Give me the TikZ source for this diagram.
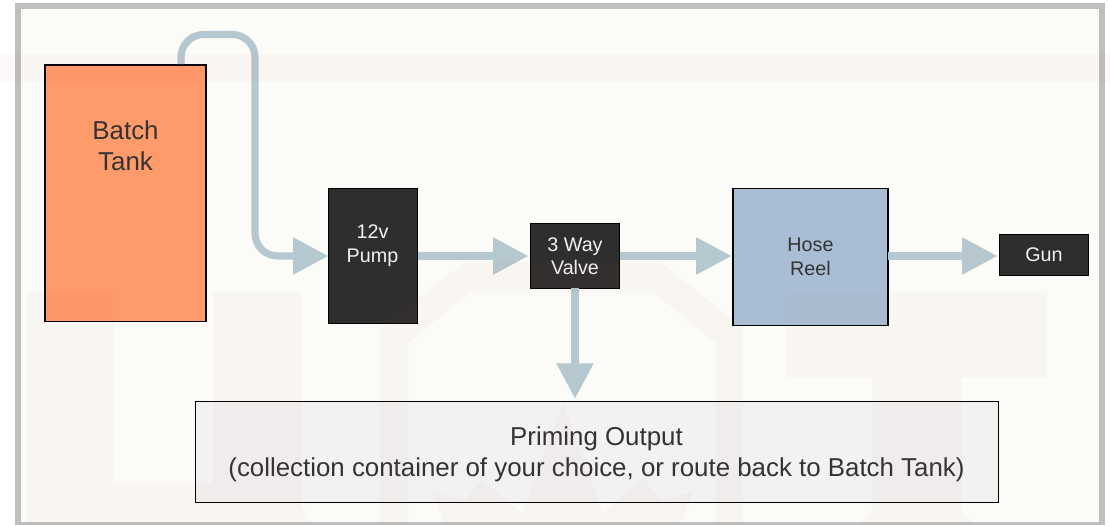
\documentclass[tikz,border=0pt]{standalone}
\usepackage{fontspec}
\setmainfont{Liberation Sans}
\usetikzlibrary{arrows.meta}
\definecolor{framegray}{HTML}{BFBFBF}
\definecolor{paper}{HTML}{FBFCF7}
\definecolor{pipe}{HTML}{B5C7CF}
\definecolor{tankfill}{HTML}{FF9A6B}
\definecolor{darkfill}{HTML}{2E2E2E}
\definecolor{reelfill}{HTML}{A9BED4}
\definecolor{primefill}{HTML}{F2F2F2}
\definecolor{inktext}{HTML}{333333}
\definecolor{lighttext}{HTML}{F2F2F2}
\definecolor{wmark}{RGB}{211,91,87}
\tikzset{
  x=0.75pt,y=-0.75pt,
  boxbase/.style={draw=black,line width=1.05pt,rectangle,inner sep=0pt,outer sep=0pt,align=center},
  bigtxt/.style={font=\fontsize{19.4}{23.2}\selectfont,text=inktext,align=center,inner sep=0pt},
  smalltxt/.style={font=\fontsize{14.8}{17.6}\selectfont,align=center,inner sep=0pt},
  pipeline/.style={draw=pipe,line width=5.4pt},
  pipearrow/.style={pipeline,-{Triangle[length=26.5pt,width=26.5pt]}},
}
\begin{document}
\begin{tikzpicture}
\useasboundingbox (0,0) rectangle (1110,525);
\fill[white] (0,0) rectangle (1110,525);
\fill[framegray] (15,3) rectangle (1105,525);
\fill[paper] (21,8.5) rectangle (1099,522);

% boxes
\node[boxbase,fill=tankfill,minimum width=120.8pt,minimum height=192.5pt] (tank) at (125.5,193.2) {};
\node[boxbase,fill=darkfill,minimum width=66.8pt,minimum height=101pt] (pump) at (373,256) {};
\node[boxbase,fill=darkfill,minimum width=66.8pt,minimum height=48.7pt,text=lighttext,font=\fontsize{14.8}{17}\selectfont] (valve) at (575,256) {3 Way\\Valve};
\node[boxbase,fill=reelfill,minimum width=116.4pt,minimum height=103pt,text=inktext,font=\fontsize{14.8}{17.8}\selectfont] (reel) at (810.5,257) {Hose\\Reel};
\node[boxbase,fill=darkfill,minimum width=66.8pt,minimum height=30.8pt,text=lighttext,font=\fontsize{14.8}{17}\selectfont] (gun) at (1044,254.9) {Gun};
\node[boxbase,fill=primefill,minimum width=602.4pt,minimum height=76pt] (prime) at (597,452) {};

\node[bigtxt] (tanklabel) at (125.5,146) {Batch\\Tank};
\node[smalltxt,text=lighttext] (pumplabel) at (372.5,245.5) {12v\\Pump};
\node[bigtxt] (primelabel) at (596.5,454) {Priming Output\\(collection container of your choice, or route back to Batch Tank)};

% connectors
\coordinate (tankout) at (181,64);
\coordinate (loopa) at (181,34.5);
\coordinate (loopb) at (255,34.5);
\draw[pipearrow,rounded corners=17pt] (tankout) -- (loopa) -- (loopb) -- (loopb |- pump.west) -- (pump.west);
\draw[pipearrow,shorten >=1.5pt] (pump.east) -- (valve.west);
\draw[pipearrow,shorten >=1pt] (valve.east) -- (reel.west |- valve.east);
\draw[pipearrow,shorten >=1.5pt] (reel.east |- valve.east) -- (gun.west |- valve.east);
\draw[pipearrow,shorten >=2pt] (valve.south) -- (valve.south |- prime.north);

% faint watermark over everything
\fill[wmark,fill opacity=0.035]
  (0,54) rectangle (1110,82)
  (27,292) -- (113,292) -- (113,483) -- (213,483) -- (213,292) -- (301,292) -- (301,505) -- (312,525) -- (27,525) -- cycle
  (380,525) -- (380,328) -- (465,262) -- (660,262) -- (743,328) -- (743,525) -- (716,525) -- (716,343) -- (653,292) -- (470,292) -- (408,343) -- (408,525) -- cycle
  (786,292) -- (1047,292) -- (1047,378) -- (961,378) -- (961,510) -- (975,525) -- (860,525) -- (872,510) -- (872,378) -- (786,378) -- cycle
  (432,492) -- (465,500) -- (482,480) -- (522,513) -- (563,403) -- (603,513) -- (643,478) -- (660,500) -- (693,492) -- (680,525) -- (445,525) -- cycle;
\end{tikzpicture}
\end{document}
